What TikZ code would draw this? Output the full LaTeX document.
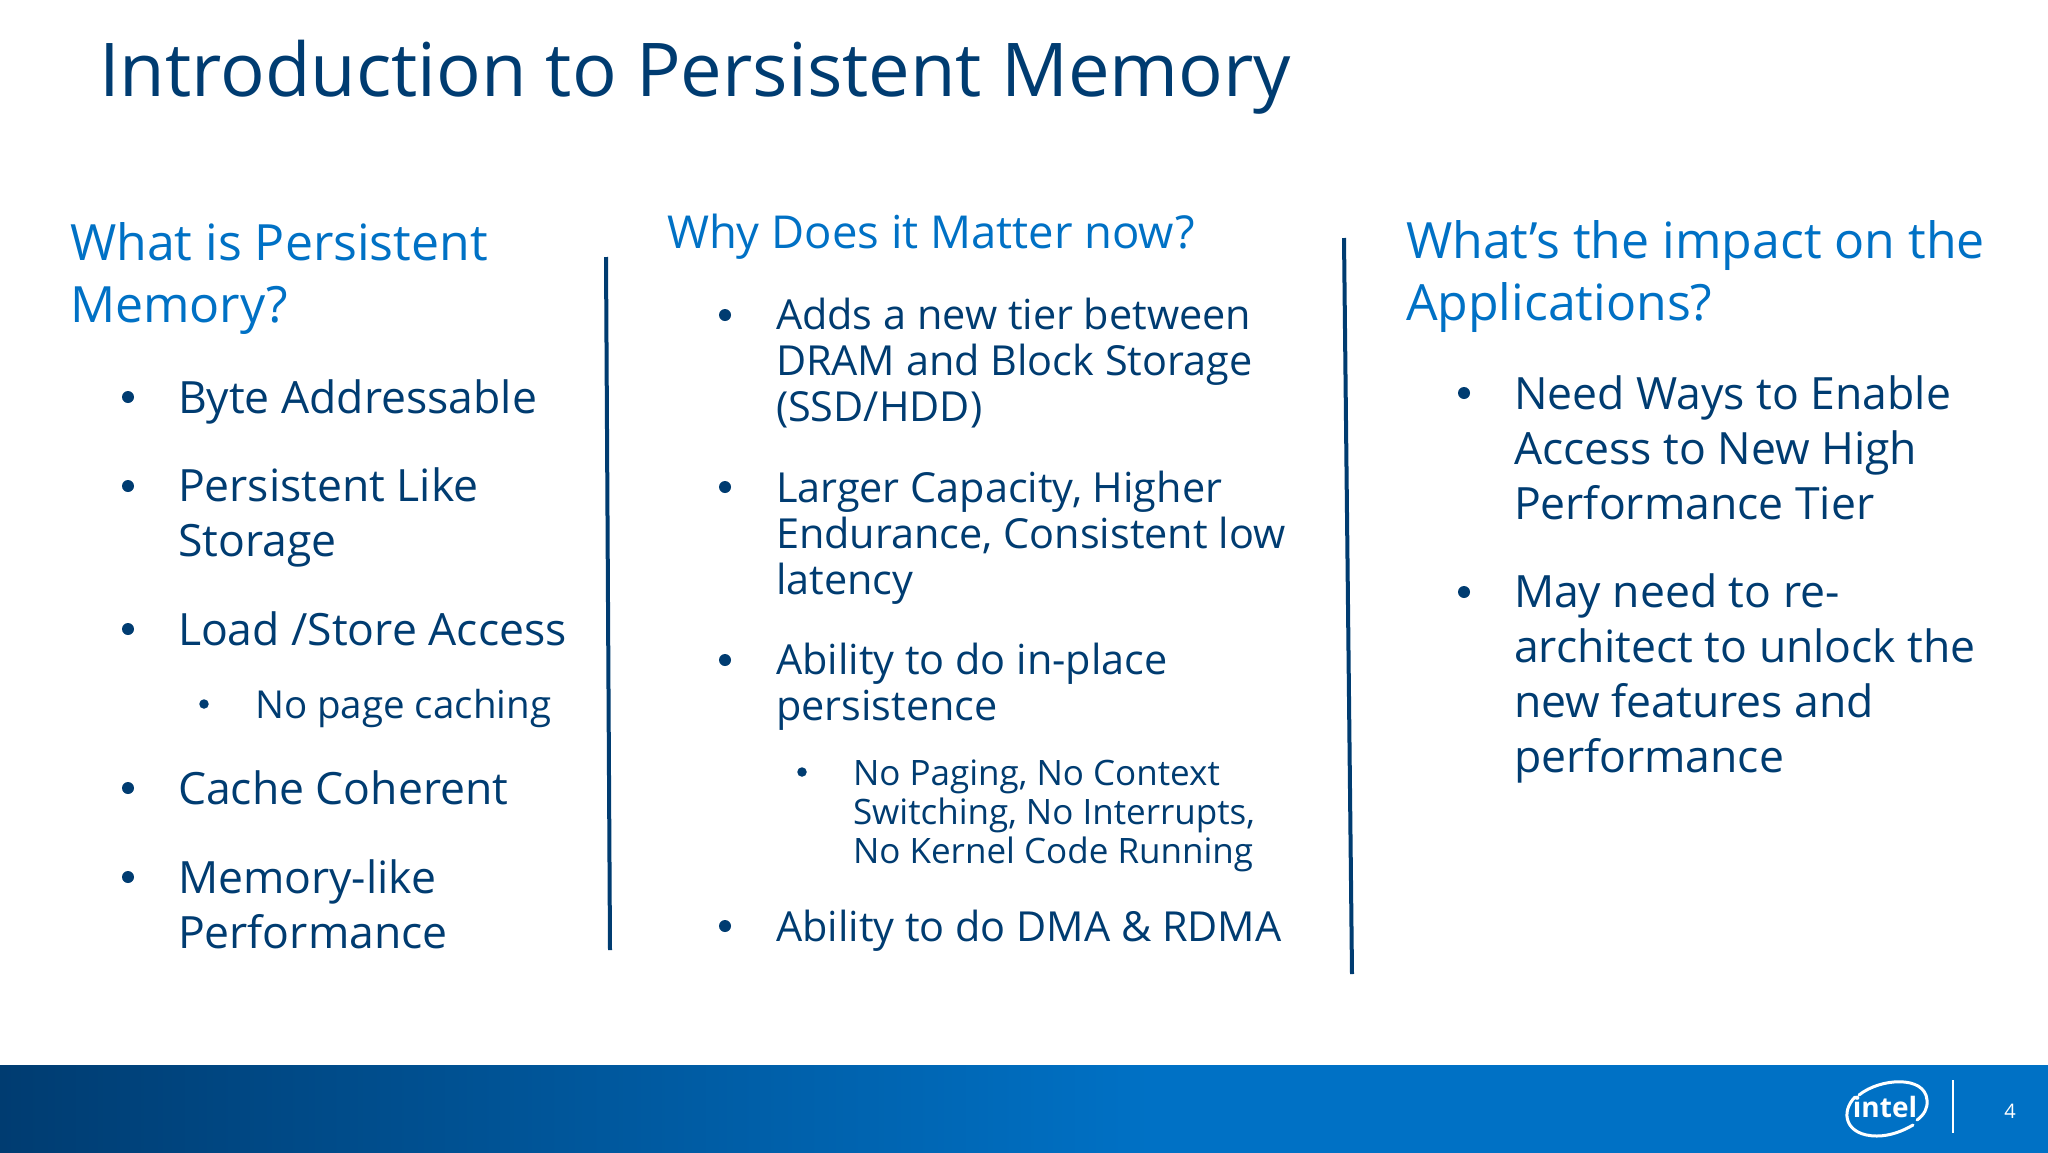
\documentclass[tikz,border=0pt]{standalone}
\usepackage{fontspec}
\setmainfont{Open Sans}
\usepackage{tikz}
\definecolor{inteldark}{HTML}{003C71}
\definecolor{intelblue}{HTML}{0071C5}

\begin{document}
\begin{tikzpicture}[
  x=1pt, y=-1pt,
  every node/.style={inner sep=0pt, outer sep=0pt, anchor=base west, align=left},
  titletext/.style={text=inteldark, font=\fontsize{74.2}{80}\selectfont},
  headtext/.style={text=intelblue, font=\fontsize{50}{61.5}\selectfont},
  headsmall/.style={text=intelblue, font=\fontsize{45.4}{50}\selectfont},
  itemtext/.style={text=inteldark, font=\fontsize{44.5}{55}\selectfont},
  itemtight/.style={text=inteldark, font=\fontsize{41.4}{46}\selectfont},
  subtext/.style={text=inteldark, font=\fontsize{38.5}{39}\selectfont},
  subtight/.style={text=inteldark, font=\fontsize{35}{39}\selectfont},
  bigdot/.style={circle, fill=inteldark, minimum size=12pt, anchor=center},
  smalldot/.style={circle, fill=inteldark, minimum size=9.5pt, anchor=center},
  rulerline/.style={draw=inteldark, line width=4pt},
]
  \useasboundingbox (0,0) rectangle (2048,1152);
  \fill[white] (0,0) rectangle (2048,1152);

  % footer band
  \shade[left color=inteldark, right color=intelblue] (0,1065) rectangle (1150,1153);
  \fill[intelblue] (1149,1065) rectangle (2049,1153);

  \node[titletext] (title) at (99,96) {Introduction to Persistent Memory};

  % left column
  \node[headtext] (whatHead) at (70,322) {What is Persistent\\Memory?};
  \node[itemtext] (byte) at (178,413) {Byte Addressable};
  \node[itemtext] (like) at (178,556) {Persistent Like\\Storage};
  \node[itemtext] (load) at (178,645) {Load /Store Access};
  \node[subtext] (paging) at (255,718) {No page caching};
  \node[itemtext] (cache) at (178,804) {Cache Coherent};
  \node[itemtext] (perf) at (178,948) {Memory-like\\Performance};

  % middle column
  \node[headsmall] (whyHead) at (667,248) {Why Does it Matter now?};
  \node[itemtight] (tier) at (776,421) {Adds a new tier between\\DRAM and Block Storage\\(SSD/HDD)};
  \node[itemtight] (capacity) at (776,594) {Larger Capacity, Higher\\Endurance, Consistent low\\latency};
  \node[itemtight] (inplace) at (776,720) {Ability to do in-place\\persistence};
  \node[subtight] (nopaging) at (853,863) {No Paging, No Context\\Switching, No Interrupts,\\No Kernel Code Running};
  \node[itemtight] (dma) at (776,941) {Ability to do DMA \& RDMA};

  % right column
  \node[headtext] (impactHead) at (1406,320) {What's the impact on the\\Applications?};
  \node[itemtext] (ways) at (1514,519) {Need Ways to Enable\\Access to New High\\Performance Tier};
  \node[itemtext] (rearch) at (1514,772) {May need to re-\\architect to unlock the\\new features and\\performance};

  \foreach \px/\py in {128/397, 128/486, 128/629, 128/788, 128/877,
                       725/315, 725/487, 725/660, 725/926,
                       1464/393, 1464/592}
    \node[bigdot] at (\px,\py) {};
  \foreach \px/\py in {204/704, 802/772}
    \node[smalldot] at (\px,\py) {};

  \coordinate (ruleA) at (606,257);
  \coordinate (ruleB) at (610,950);
  \coordinate (ruleC) at (1344,238);
  \coordinate (ruleD) at (1352,974);
  \draw[rulerline] (ruleA) -- (ruleB);
  \draw[rulerline] (ruleC) -- (ruleD);

  % logo
  \draw[white, line width=3pt, line cap=round]
    (1859,1095) .. controls (1880,1078) and (1925,1075) .. (1927,1100)
    .. controls (1928,1108) and (1924,1115) .. (1917,1120);
  \draw[white, line width=3pt, line cap=round]
    (1855,1097) .. controls (1840,1112) and (1845,1136) .. (1877,1136)
    .. controls (1890,1136) and (1903,1131) .. (1913,1125);
  \node[text=white, font=\fontsize{28}{28}\selectfont\bfseries, anchor=base] (logo) at (1885,1117) {intel};
  \coordinate (barTop) at (1953,1080);
  \coordinate (barEnd) at (1953,1133);
  \draw[white, line width=1.5pt] (barTop) -- (barEnd);
  \node[text=white, font=\fontsize{20}{20}\selectfont, anchor=base] (page) at (2010,1118) {4};
\end{tikzpicture}
\end{document}
